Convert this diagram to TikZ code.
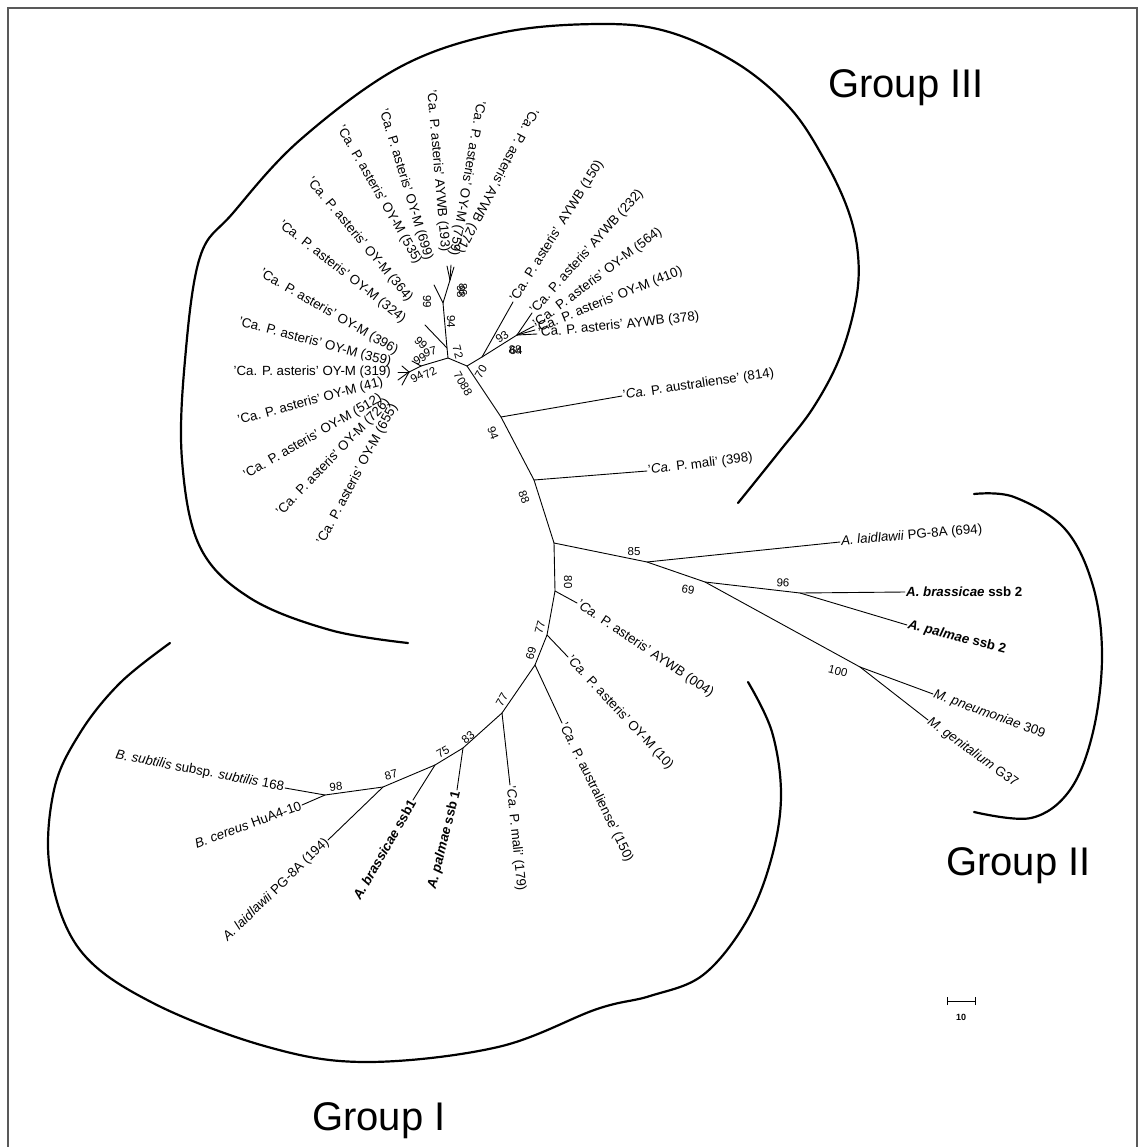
\documentclass[tikz,border=0pt]{standalone}
\usepackage{fontspec}
\setmainfont{Liberation Sans}
\newcommand\CaPx{'Ca. P.}
\newcommand\CaPi{'\textit{Ca.} P.}
\begin{document}
\begin{tikzpicture}[x=1pt,y=-1pt,
  br/.style={line width=0.9pt, line cap=round},
  grp/.style={line width=2.2pt, line cap=round},
  lab/.style={font=\fontsize{13.3}{15}\selectfont, inner sep=1pt},
  bs/.style={font=\fontsize{11.5}{13}\selectfont, inner sep=0pt},
  glab/.style={font=\fontsize{40}{44}\selectfont, anchor=base west, inner sep=0pt}]
\useasboundingbox (0,0) rectangle (1143,1147);
\fill[white] (0,0) rectangle (1143,1147);
\draw[line width=1.4pt, black!65] (8,1147) -- (8,8) -- (1137,8) -- (1137,1147);

% ---------- coordinates ----------
\coordinate (R) at (554,543);
\coordinate (m398) at (534,480);
\coordinate (a814) at (501,417);
\coordinate (n70) at (467,366);
\coordinate (na) at (448,358);
\coordinate (ng) at (482,357);
\coordinate (n93) at (517,335);
\coordinate (nc) at (447,348);
\coordinate (nd) at (443,303);
\coordinate (ne) at (450,280);
\coordinate (tL) at (434,285);
\coordinate (tE1) at (447,266);
\coordinate (tE2) at (451,265);
\coordinate (tE3) at (454,267);
\coordinate (t364) at (425,325);
\coordinate (ns1) at (421,366);
\coordinate (ns2) at (409,372);
\coordinate (tS1) at (402,366);
\coordinate (tS2) at (398,372);
\coordinate (tS3) at (398,380);
\coordinate (tS4) at (402,385);
\coordinate (tS5) at (412,361);
\coordinate (t150) at (513,302);
\coordinate (t232) at (532,313);
\coordinate (t564) at (534,326);
\coordinate (t410) at (535,330);
\coordinate (t378) at (537,334);
\coordinate (t814) at (622,396);
\coordinate (t398) at (647,471);
% group II
\coordinate (n85) at (647,562);
\coordinate (t694) at (840,542);
\coordinate (n69) at (705,582);
\coordinate (n96) at (800,593);
\coordinate (tbr2) at (905,592);
\coordinate (tpa2) at (907,625);
\coordinate (n100) at (860,667);
\coordinate (tpn) at (933,694);
\coordinate (tge) at (928,720);
% group I
\coordinate (n80) at (555,591);
\coordinate (t004) at (577,603);
\coordinate (n77a) at (547,635);
\coordinate (t10) at (568,657);
\coordinate (n69b) at (535,665);
\coordinate (t150b) at (562,723);
\coordinate (n77b) at (502,713);
\coordinate (t179) at (510,785);
\coordinate (n83) at (463,748);
\coordinate (tpa1) at (457,790);
\coordinate (n75) at (435,765);
\coordinate (tbr1) at (413,800);
\coordinate (n87) at (383,787);
\coordinate (t194) at (328,840);
\coordinate (n98) at (325,795);
\coordinate (tsu) at (285,788);
\coordinate (tce) at (302,805);

% ---------- branches ----------
\draw[br] (R) -- (m398) -- (a814) -- (n70) -- (na);
\draw[br] (n70) -- (ng) -- (t150);
\draw[br] (ng) -- (n93);
\draw[br] (n93) -- (t232);
\draw[br] (n93) -- (t564);
\draw[br] (n93) -- (t410);
\draw[br] (n93) -- (t378);
\draw[br] (na) -- (nc) -- (nd) -- (ne);
\draw[br] (nc) -- (t364);
\draw[br] (nd) -- (tL);
\draw[br] (ne) -- (tE1);
\draw[br] (ne) -- (tE2);
\draw[br] (ne) -- (tE3);
\draw[br] (na) -- (ns1) -- (ns2);
\draw[br] (ns1) -- (tS5);
\draw[br] (ns2) -- (tS1);
\draw[br] (ns2) -- (tS2);
\draw[br] (ns2) -- (tS3);
\draw[br] (ns2) -- (tS4);
\draw[br] (a814) -- (t814);
\draw[br] (m398) -- (t398);
\draw[br] (R) -- (n85) -- (t694);
\draw[br] (n85) -- (n69) -- (n96) -- (tbr2);
\draw[br] (n96) -- (tpa2);
\draw[br] (n69) -- (n100) -- (tpn);
\draw[br] (n100) -- (tge);
\draw[br] (R) -- (n80) -- (t004);
\draw[br] (n80) -- (n77a) -- (t10);
\draw[br] (n77a) -- (n69b) -- (t150b);
\draw[br] (n69b) -- (n77b) -- (t179);
\draw[br] (n77b) -- (n83) -- (tpa1);
\draw[br] (n83) -- (n75) -- (tbr1);
\draw[br] (n75) -- (n87) -- (t194);
\draw[br] (n87) -- (n98) -- (tsu);
\draw[br] (n98) -- (tce);

% ---------- leaf labels: group III ----------
\node[lab, anchor=east, rotate=-118] (l271) at (458,253) {\CaPx{} asteris' AYWB (271)};
\node[lab, anchor=east, rotate=-100] (l759) at (453,257) {\CaPx{} asteris' OY-M (759)};
\node[lab, anchor=east, rotate=-85] (l193) at (445,253) {\CaPx{} asteris' AYWB (193)};
\node[lab, anchor=east, rotate=-73] (l699) at (429,261) {\CaPx{} asteris' OY-M (699)};
\node[lab, anchor=east, rotate=-60] (l535) at (419,264) {\CaPx{} asteris' OY-M (535)};
\node[lab, anchor=east, rotate=-50] (l364) at (411,301) {\CaPx{} asteris' OY-M (364)};
\node[lab, anchor=east, rotate=-38] (l324) at (405,321) {\CaPx{} asteris' OY-M (324)};
\node[lab, anchor=east, rotate=-30] (l396) at (398,352) {\CaPx{} asteris' OY-M (396)};
\node[lab, anchor=east, rotate=-15] (l359) at (392,363) {\CaPx{} asteris' OY-M (359)};
\node[lab, anchor=east, rotate=0] (l319) at (392,372) {\CaPx{} asteris' OY-M (319)};
\node[lab, anchor=east, rotate=15] (l41) at (384,382) {\CaPx{} asteris' OY-M (41)};
\node[lab, anchor=east, rotate=30] (l512) at (382,397) {\CaPx{} asteris' OY-M (512)};
\node[lab, anchor=east, rotate=46] (l726) at (389,400) {\CaPx{} asteris' OY-M (726)};
\node[lab, anchor=east, rotate=62] (l655) at (395,404) {\CaPx{} asteris' OY-M (655)};
\node[lab, anchor=west, rotate=58] (l150) at (t150) {\CaPx{} asteris'\, AYWB (150)};
\node[lab, anchor=west, rotate=48] (l232) at (t232) {\CaPx{} asteris' AYWB (232)};
\node[lab, anchor=west, rotate=37] (l564) at (t564) {\CaPx{} asteris' OY-M (564)};
\node[lab, anchor=west, rotate=22] (l410) at (t410) {\CaPx{} asteris' OY-M (410)};
\node[lab, anchor=west, rotate=6] (l378) at (t378) {\CaPx{} asteris' AYWB (378)};
\node[lab, anchor=west, rotate=8.5] (l814) at (t814) {\CaPi{} australiense' (814)};
\node[lab, anchor=west, rotate=7] (l398) at (t398) {\CaPi{} mali' (398)};

% ---------- leaf labels: group II ----------
\node[lab, anchor=west, rotate=5] (l694) at (t694) {\textit{A. laidlawii} PG-8A (694)};
\node[lab, anchor=west] (lbr2) at (tbr2) {\textbf{\textit{A. brassicae} ssb 2}};
\node[lab, anchor=west, rotate=-14] (lpa2) at (tpa2) {\textbf{\textit{A. palmae} ssb 2}};
\node[lab, anchor=west, rotate=-20] (lpn) at (tpn) {\textit{M. pneumoniae} 309};
\node[lab, anchor=west, rotate=-36] (lge) at (tge) {\textit{M. genitalium} G37};

% ---------- leaf labels: group I ----------
\node[lab, anchor=west, rotate=-34] (l004) at (t004) {\CaPi{} asteris' AYWB (004)};
\node[lab, anchor=west, rotate=-47] (l10) at (t10) {\CaPi{} asteris' OY-M (10)};
\node[lab, anchor=west, rotate=-64] (l150b) at (t150b) {\CaPi{} australiense' (150)};
\node[lab, anchor=west, rotate=-84] (l179) at (t179) {\CaPi{} mali' (179)};
\node[lab, anchor=east, rotate=76] (lpa1) at (tpa1) {\textbf{\textit{A. palmae} ssb 1}};
\node[lab, anchor=east, rotate=60] (lbr1) at (tbr1) {\textbf{\textit{A. brassicae} ssb1}};
\node[lab, anchor=east, rotate=44] (l194) at (t194) {\textit{A. laidlawii} PG-8A (194)};
\node[lab, anchor=east, rotate=-11] (lsu) at (tsu) {\textit{B. subtilis} subsp. \textit{subtilis} 168};
\node[lab, anchor=east, rotate=20] (lce) at (tce) {\textit{B. cereus} HuA4-10};

% ---------- bootstrap values ----------
\node[bs, rotate=-90] (b99a) at (427,302) {99};
\node[bs, rotate=-90] (b94a) at (451,322) {94};
\node[bs, rotate=-90] (b98) at (461,292) {98};
\node[bs, rotate=-90] (b86) at (463,290) {86};
\node[bs, rotate=-45] (b99b) at (421,343) {99};
\node[bs, rotate=15] (b97) at (430,352) {97};
\node[bs, rotate=30] (b95) at (420,359) {99};
\node[bs, rotate=30] (b94b) at (417,377) {94};
\node[bs, rotate=30] (b72b) at (430,373) {72};
\node[bs, rotate=-75] (b72) at (458,352) {72};
\node[bs, rotate=-60] (b7088) at (463,384) {7088};
\node[bs, rotate=60] (b70) at (481,372) {70};
\node[bs, rotate=35] (b93) at (502,337) {93};
\node[bs, rotate=-5] (b88a) at (515,350) {88};
\node[bs] (b64) at (516,351) {64};
\node[bs, rotate=-70] (b94) at (493,433) {94};
\node[bs, rotate=-70] (b88) at (524,497) {88};
\node[bs] (b85) at (634,552) {85};
\node[bs, rotate=-10] (b69) at (688,590) {69};
\node[bs, rotate=-5] (b96) at (783,583) {96};
\node[bs, rotate=-15] (b100) at (838,671) {100};
\node[bs, rotate=-90] (b80) at (568,582) {80};
\node[bs, rotate=75] (b77a) at (540,627) {77};
\node[bs, rotate=75] (b69b) at (531,653) {69};
\node[bs, rotate=60] (b77b) at (502,700) {77};
\node[bs, rotate=40] (b83) at (468,737) {83};
\node[bs, rotate=30] (b75) at (443,752) {75};
\node[bs, rotate=15] (b87) at (391,775) {87};
\node[bs, rotate=5] (b98b) at (336,787) {98};

% ---------- group brackets ----------
\draw[grp] plot[smooth, tension=0.6] coordinates {(408,643) (330,630) (250,598) (200,547) (182,460) (185,360) (200,257) (233,213) (300,140) (400,67) (500,33) (600,24) (669,32) (738,64) (790,108) (824,159) (848,210) (858,255) (856,300) (840,357) (813,408) (779,452) (738,503)};
\draw[grp] plot[smooth, tension=0.6] coordinates {(974,494) (1014,497) (1065,529) (1093,586) (1102,656) (1093,732) (1070,790) (1031,818) (974,812)};
\draw[grp] plot[smooth, tension=0.6] coordinates {(748,682) (772,732) (781,796) (771,860) (746,922) (703,975) (650,996) (597,1009) (498,1047) (367,1062) (268,1047) (153,1003) (80,950) (50,870) (54,790) (80,733) (120,683) (170,643)};

\node[glab] (g3) at (828,98) {Group III};
\node[glab] (g2) at (946,875) {Group II};
\node[glab] (g1) at (312,1130) {Group I};

% ---------- scale bar ----------
\coordinate (s1) at (947,1001);
\coordinate (s2) at (975,1001);
\draw[line width=0.9pt] (s1) -- (s2);
\draw[line width=0.9pt] ([yshift=-4]s1) -- ([yshift=4]s1);
\draw[line width=0.9pt] ([yshift=-4]s2) -- ([yshift=4]s2);
\node[font=\fontsize{9}{10}\selectfont\bfseries, inner sep=0pt] (s10) at (961,1017) {10};
\end{tikzpicture}
\end{document}
